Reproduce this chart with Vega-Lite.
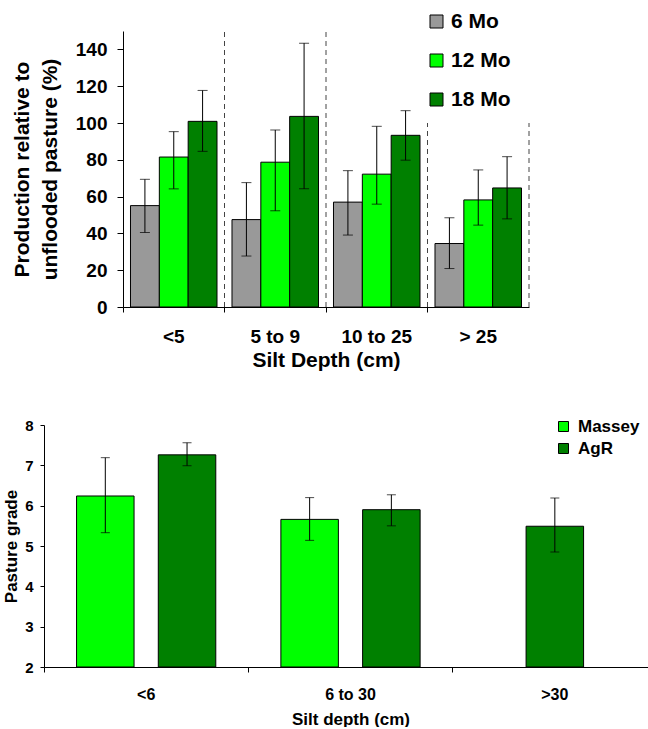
{
  "$schema": "https://vega.github.io/schema/vega-lite/v6.json",
  "padding": {"left": 2, "top": 11, "right": 0, "bottom": 0},
  "background": "white",
  "config": {
    "view": {"stroke": null},
    "font": "Liberation Sans",
    "axis": {"grid": false, "domainColor": "#000", "tickColor": "#000", "labelColor": "#000", "titleColor": "#000", "labelFont": "Liberation Sans", "titleFont": "Liberation Sans", "labelFontWeight": "bold", "titleFontWeight": "bold", "labelOverlap": false},
    "legend": {"labelFont": "Liberation Sans", "labelFontWeight": "bold", "labelColor": "#000"}
  },
  "datasets": {
    "top": [
      {"depth": "<5", "period": "6 Mo", "value": 55.1, "lo": 40.5, "hi": 69.4},
      {"depth": "<5", "period": "12 Mo", "value": 81.5, "lo": 64.2, "hi": 95.3},
      {"depth": "<5", "period": "18 Mo", "value": 100.9, "lo": 84.6, "hi": 117.7},
      {"depth": "5 to 9", "period": "6 Mo", "value": 47.5, "lo": 27.7, "hi": 67.6},
      {"depth": "5 to 9", "period": "12 Mo", "value": 78.7, "lo": 52.3, "hi": 96.2},
      {"depth": "5 to 9", "period": "18 Mo", "value": 103.6, "lo": 64.2, "hi": 143.4},
      {"depth": "10 to 25", "period": "6 Mo", "value": 57.0, "lo": 39.1, "hi": 74.1},
      {"depth": "10 to 25", "period": "12 Mo", "value": 72.2, "lo": 55.9, "hi": 98.2},
      {"depth": "10 to 25", "period": "18 Mo", "value": 93.3, "lo": 79.8, "hi": 106.7},
      {"depth": "> 25", "period": "6 Mo", "value": 34.5, "lo": 20.9, "hi": 48.5},
      {"depth": "> 25", "period": "12 Mo", "value": 58.2, "lo": 44.5, "hi": 74.5},
      {"depth": "> 25", "period": "18 Mo", "value": 64.7, "lo": 47.9, "hi": 81.7}
    ],
    "lines": [
      {"depth": "5 to 9", "from": 0, "to": 150, "edge": "start"},
      {"depth": "10 to 25", "from": 0, "to": 150, "edge": "start"},
      {"depth": "> 25", "from": 0, "to": 100, "edge": "start"},
      {"depth": "> 25", "from": 0, "to": 100, "edge": "end"}
    ],
    "bottom": [
      {"depth": "<6", "source": "Massey", "slot": "left", "value": 6.24, "lo": 5.33, "hi": 7.19},
      {"depth": "<6", "source": "AgR", "slot": "right", "value": 7.26, "lo": 6.99, "hi": 7.56},
      {"depth": "6 to 30", "source": "Massey", "slot": "left", "value": 5.66, "lo": 5.14, "hi": 6.20},
      {"depth": "6 to 30", "source": "AgR", "slot": "right", "value": 5.90, "lo": 5.50, "hi": 6.27},
      {"depth": ">30", "source": "AgR", "slot": "middle", "value": 5.49, "lo": 4.85, "hi": 6.19}
    ]
  },
  "spacing": 48,
  "resolve": {"scale": {"x": "independent", "y": "independent", "color": "independent", "xOffset": "independent"}, "legend": {"color": "independent"}},
  "vconcat": [
    {
      "width": 485,
      "height": 276,
      "data": {"name": "top"},
      "layer": [
        {
          "mark": {"type": "bar", "stroke": "#000", "strokeWidth": 1},
          "encoding": {
            "x": {"field": "depth", "type": "nominal", "scale": {"domain": ["<5", "5 to 9", "10 to 25", "> 25"], "range": [79, 485], "paddingInner": 0, "paddingOuter": 0},
                  "axis": {"title": "Silt Depth (cm)", "labelAngle": 0, "bandPosition": 0, "tickSize": 5, "labelFontSize": 19, "labelPadding": 15, "titleFontSize": 21, "titlePadding": 3}},
            "xOffset": {"field": "period", "type": "nominal", "scale": {"domain": ["6 Mo", "12 Mo", "18 Mo"], "paddingInner": 0, "paddingOuter": 0.26}},
            "y": {"field": "value", "type": "quantitative", "scale": {"domain": [0, 150], "nice": false},
                  "axis": {"title": ["Production relative to", "unflooded pasture (%)"], "offset": -79, "values": [0, 20, 40, 60, 80, 100, 120, 140], "tickCount": 10, "format": "d", "labelOverlap": false, "tickSize": 6, "labelFontSize": 19, "labelPadding": 10, "titleFontSize": 21, "titleLineHeight": 28, "titlePadding": 15}},
            "color": {"field": "period", "type": "nominal", "scale": {"domain": ["6 Mo", "12 Mo", "18 Mo"], "range": ["#999999", "#00FF00", "#008000"]},
                      "legend": {"orient": "none", "legendX": 382, "legendY": -20, "title": null, "symbolType": "square", "symbolSize": 169, "symbolStrokeColor": "#000", "symbolStrokeWidth": 1, "labelFontSize": 21, "rowPadding": 17, "labelOffset": 4, "padding": 0}}
          }
        },
        {
          "mark": {"type": "rule", "color": "#000", "strokeWidth": 1},
          "encoding": {
            "x": {"field": "depth", "type": "nominal"},
            "xOffset": {"field": "period", "type": "nominal"},
            "y": {"field": "lo", "type": "quantitative"},
            "y2": {"field": "hi"}
          }
        },
        {
          "mark": {"type": "tick", "color": "#000", "size": 10, "thickness": 1},
          "encoding": {
            "x": {"field": "depth", "type": "nominal"},
            "xOffset": {"field": "period", "type": "nominal"},
            "y": {"field": "lo", "type": "quantitative"}
          }
        },
        {
          "mark": {"type": "tick", "color": "#000", "size": 10, "thickness": 1},
          "encoding": {
            "x": {"field": "depth", "type": "nominal"},
            "xOffset": {"field": "period", "type": "nominal"},
            "y": {"field": "hi", "type": "quantitative"}
          }
        },
        {
          "data": {"name": "lines"},
          "transform": [{"filter": "datum.edge == 'start'"}],
          "mark": {"type": "rule", "color": "#444", "strokeWidth": 1, "strokeDash": [5, 4]},
          "encoding": {
            "x": {"field": "depth", "type": "nominal", "bandPosition": 0},
            "y": {"field": "from", "type": "quantitative"},
            "y2": {"field": "to"}
          }
        },
        {
          "data": {"name": "lines"},
          "transform": [{"filter": "datum.edge == 'end'"}],
          "mark": {"type": "rule", "color": "#444", "strokeWidth": 1, "strokeDash": [5, 4]},
          "encoding": {
            "x": {"field": "depth", "type": "nominal", "bandPosition": 1},
            "y": {"field": "from", "type": "quantitative"},
            "y2": {"field": "to"}
          }
        }
      ]
    },
    {
      "width": 613,
      "height": 242,
      "data": {"name": "bottom"},
      "layer": [
        {
          "mark": {"type": "bar", "stroke": "#000", "strokeWidth": 1, "width": 57.5},
          "encoding": {
            "x": {"field": "depth", "type": "nominal", "scale": {"domain": ["<6", "6 to 30", ">30"], "paddingInner": 0, "paddingOuter": 0},
                  "axis": {"title": "Silt depth (cm)", "labelAngle": 0, "bandPosition": 0, "tickSize": 5, "labelFontSize": 16, "labelPadding": 14, "titleFontSize": 17, "titlePadding": 9}},
            "xOffset": {"field": "slot", "type": "nominal", "scale": {"domain": ["left", "middle", "right"], "paddingInner": 0, "paddingOuter": 2.02}},
            "y": {"field": "value", "type": "quantitative", "scale": {"domain": [2, 8], "nice": false, "zero": false, "clamp": true},
                  "axis": {"title": "Pasture grade", "values": [2, 3, 4, 5, 6, 7, 8], "format": "d", "tickSize": 4, "labelFontSize": 15, "labelPadding": 7, "titleFontSize": 17, "titlePadding": 4}},
            "color": {"field": "source", "type": "nominal", "scale": {"domain": ["Massey", "AgR"], "range": ["#00FF00", "#008000"]},
                      "legend": {"orient": "none", "legendX": 511, "legendY": -7, "title": null, "symbolType": "square", "symbolSize": 100, "symbolStrokeColor": "#000", "symbolStrokeWidth": 1, "labelFontSize": 17, "rowPadding": 4, "labelOffset": 6, "padding": 0}}
          }
        },
        {
          "mark": {"type": "rule", "color": "#000", "strokeWidth": 1},
          "encoding": {
            "x": {"field": "depth", "type": "nominal"},
            "xOffset": {"field": "slot", "type": "nominal"},
            "y": {"field": "lo", "type": "quantitative"},
            "y2": {"field": "hi"}
          }
        },
        {
          "mark": {"type": "tick", "color": "#000", "size": 9, "thickness": 1},
          "encoding": {
            "x": {"field": "depth", "type": "nominal"},
            "xOffset": {"field": "slot", "type": "nominal"},
            "y": {"field": "lo", "type": "quantitative"}
          }
        },
        {
          "mark": {"type": "tick", "color": "#000", "size": 9, "thickness": 1},
          "encoding": {
            "x": {"field": "depth", "type": "nominal"},
            "xOffset": {"field": "slot", "type": "nominal"},
            "y": {"field": "hi", "type": "quantitative"}
          }
        }
      ]
    }
  ]
}
